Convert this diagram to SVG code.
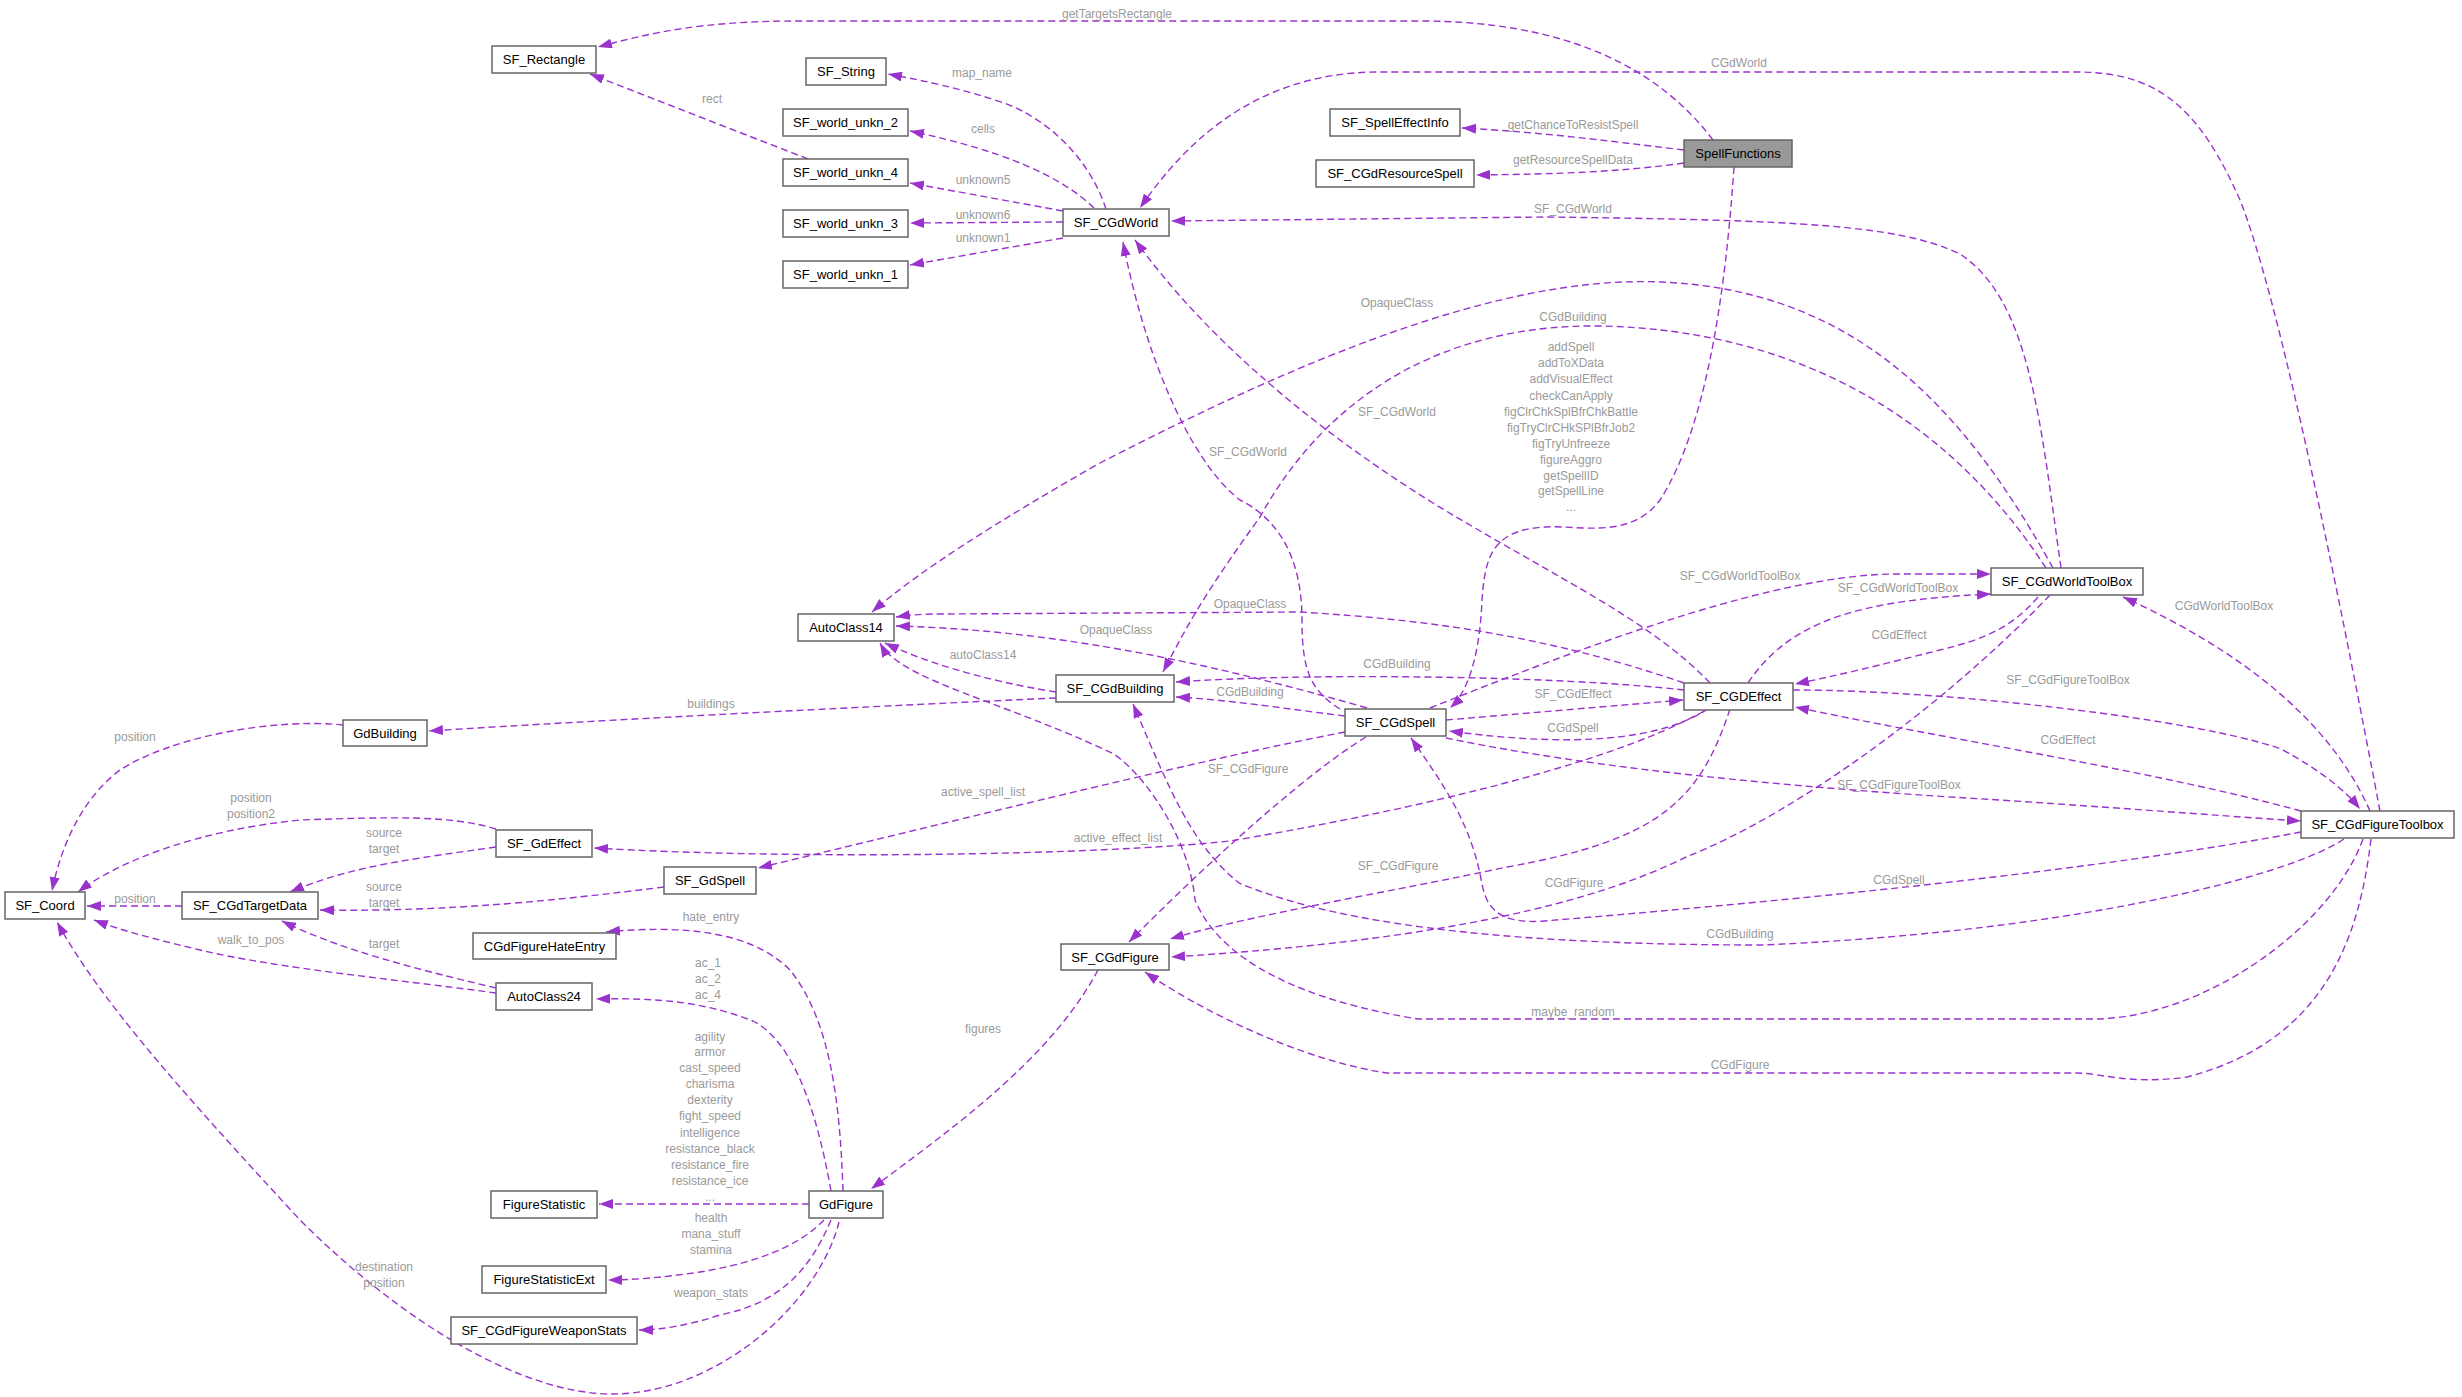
<svg xmlns="http://www.w3.org/2000/svg" width="2462" height="1397" viewBox="0 0 2462 1397">
<style>
.n rect{fill:#fff;stroke:#666;stroke-width:1.5}
.n text{font-family:"Liberation Sans",Arial,sans-serif;font-size:13px;fill:#000;text-anchor:middle;dominant-baseline:central}
.e path{fill:none;stroke:#9a32cd;stroke-width:1.4;stroke-dasharray:7,4;marker-end:url(#a)}
.l text{font-family:"Liberation Sans",Arial,sans-serif;font-size:12px;fill:#9a9a9a;text-anchor:middle;dominant-baseline:central}
</style>
<defs><marker id="a" markerUnits="userSpaceOnUse" markerWidth="14" markerHeight="10" refX="14" refY="5" orient="auto"><path d="M0,0L14,5L0,10z" fill="#9a32cd"/></marker></defs>
<rect width="2462" height="1397" fill="#fff"/>
<g class="e">
<path d="M1713,140 C1660,70 1570,21 1420,21 L800,21 C700,21 650,33 598,47"/>
<path d="M1684,150 C1600,140 1540,132 1462,128"/>
<path d="M1684,163 C1620,172 1560,174 1476,175"/>
<path d="M1734,167 C1725,300 1705,430 1660,500 C1630,540 1580,525 1545,527 C1490,530 1485,560 1482,600 C1480,650 1470,690 1450,708"/>
<path d="M1106,209 C1090,160 1050,120 1004,103 C960,88 920,80 888,74"/>
<path d="M1094,208 C1060,175 1000,150 910,131"/>
<path d="M1063,211 L910,183"/>
<path d="M1063,222 L910,223"/>
<path d="M1063,238 L910,265"/>
<path d="M808,159 L590,74"/>
<path d="M2380,811 C2340,600 2280,300 2240,200 C2200,110 2160,72 2077,72 L1379,72 C1250,72 1180,150 1140,208"/>
<path d="M2061,568 C2040,420 2030,300 1960,254 C1900,225 1800,220 1544,217 L1171,221"/>
<path d="M2053,568 C1960,400 1850,290 1661,282 C1500,275 1300,360 1100,463 C1000,520 920,570 872,612"/>
<path d="M2046,568 C1950,420 1800,330 1600,326 C1450,324 1330,390 1260,517 C1200,600 1185,630 1163,672"/>
<path d="M1710,683 C1650,620 1560,580 1433,503 C1300,420 1200,330 1135,240"/>
<path d="M1340,709 C1310,690 1302,670 1302,620 C1302,560 1280,520 1240,500 C1200,470 1150,380 1123,242"/>
<path d="M1748,683 C1790,620 1860,600 1991,594"/>
<path d="M1430,708 C1600,640 1780,574 1897,574 L1991,574"/>
<path d="M2038,597 C2010,630 1980,640 1940,650 C1880,665 1840,675 1795,684"/>
<path d="M2370,811 C2330,720 2240,650 2123,597"/>
<path d="M1793,690 C1950,690 2200,720 2281,749 C2320,770 2345,790 2360,809"/>
<path d="M2301,811 C2150,770 1950,740 1795,707"/>
<path d="M1446,738 C1600,770 1810,789 2000,800 C2150,810 2250,818 2301,821"/>
<path d="M1708,709 C1660,740 1575,748 1449,731"/>
<path d="M1446,720 L1683,700"/>
<path d="M2301,832 C2100,870 1800,900 1544,921 C1490,925 1485,900 1481,879 C1470,820 1440,780 1411,738"/>
<path d="M2344,839 C2300,870 2100,930 1763,945 C1544,945 1350,930 1239,883 C1190,843 1170,790 1133,704"/>
<path d="M2363,839 C2330,930 2200,1019 2093,1019 L1418,1019 C1300,1000 1220,960 1195,900 C1190,843 1150,780 1114,754 C1000,700 900,680 880,643"/>
<path d="M2371,839 C2360,930 2330,1040 2187,1077 C2130,1085 2100,1073 2077,1073 L1387,1073 C1300,1060 1200,1010 1145,972"/>
<path d="M1366,737 C1300,777 1190,880 1129,942"/>
<path d="M1730,709 C1700,800 1660,840 1507,867 C1400,890 1250,915 1170,939"/>
<path d="M2050,595 C1950,700 1800,812 1686,857 C1600,900 1450,940 1171,957"/>
<path d="M1345,732 C1200,760 1000,810 758,868"/>
<path d="M1704,711 C1600,770 1373,817 1230,841 C1100,855 800,860 594,848"/>
<path d="M1367,708 C1200,660 1050,630 896,626"/>
<path d="M1684,683 C1550,637 1433,620 1300,612 L941,614 C920,614 910,615 896,617"/>
<path d="M1684,690 C1550,675 1300,673 1176,682"/>
<path d="M1345,716 C1280,708 1230,700 1176,697"/>
<path d="M1056,692 C980,680 920,660 885,643"/>
<path d="M1056,698 C900,705 600,720 429,731"/>
<path d="M1098,970 C1050,1060 950,1130 871,1189"/>
<path d="M343,725 C275,718 173,736 120,770 C80,800 60,850 52,891"/>
<path d="M496,829 C450,815 392,817 300,820 C200,830 120,860 78,892"/>
<path d="M496,847 C420,858 353,865 290,892"/>
<path d="M664,887 C560,900 450,912 320,910"/>
<path d="M182,906 L87,906"/>
<path d="M496,993 C400,980 275,968 200,950 C150,938 120,930 94,920"/>
<path d="M496,988 C420,970 340,950 282,921"/>
<path d="M839,1222 C820,1300 720,1394 612,1394 C520,1394 400,1320 300,1220 C180,1090 100,1000 57,922"/>
<path d="M843,1191 C840,1100 830,1020 790,970 C750,930 680,925 606,932"/>
<path d="M831,1191 C815,1100 790,1040 753,1021 C700,1000 650,998 596,999"/>
<path d="M809,1204 L599,1204"/>
<path d="M824,1220 C800,1245 760,1262 700,1272 C660,1278 630,1280 608,1280"/>
<path d="M831,1220 C810,1270 780,1303 720,1315 C690,1325 660,1330 639,1330"/>
</g>
<g class="l">
<text x="1117" y="14">getTargetsRectangle</text>
<text x="1573" y="125">getChanceToResistSpell</text>
<text x="1573" y="160">getResourceSpellData</text>
<text x="1571" y="347">addSpell</text><text x="1571" y="363">addToXData</text><text x="1571" y="379">addVisualEffect</text><text x="1571" y="396">checkCanApply</text><text x="1571" y="412">figClrChkSplBfrChkBattle</text><text x="1571" y="428">figTryClrCHkSPlBfrJob2</text><text x="1571" y="444">figTryUnfreeze</text><text x="1571" y="460">figureAggro</text><text x="1571" y="476">getSpellID</text><text x="1571" y="491">getSpellLine</text><text x="1571" y="507">...</text>
<text x="982" y="73">map_name</text>
<text x="983" y="129">cells</text>
<text x="983" y="180">unknown5</text>
<text x="983" y="215">unknown6</text>
<text x="983" y="238">unknown1</text>
<text x="712" y="99">rect</text>
<text x="1739" y="63">CGdWorld</text>
<text x="1573" y="209">SF_CGdWorld</text>
<text x="1397" y="303">OpaqueClass</text>
<text x="1573" y="317">CGdBuilding</text>
<text x="1397" y="412">SF_CGdWorld</text>
<text x="1248" y="452">SF_CGdWorld</text>
<text x="1898" y="588">SF_CGdWorldToolBox</text>
<text x="1740" y="576">SF_CGdWorldToolBox</text>
<text x="1899" y="635">CGdEffect</text>
<text x="2224" y="606">CGdWorldToolBox</text>
<text x="2068" y="680">SF_CGdFigureToolBox</text>
<text x="2068" y="740">CGdEffect</text>
<text x="1899" y="785">SF_CGdFigureToolBox</text>
<text x="1573" y="728">CGdSpell</text>
<text x="1573" y="694">SF_CGdEffect</text>
<text x="1899" y="880">CGdSpell</text>
<text x="1740" y="934">CGdBuilding</text>
<text x="1573" y="1012">maybe_random</text>
<text x="1740" y="1065">CGdFigure</text>
<text x="1248" y="769">SF_CGdFigure</text>
<text x="1398" y="866">SF_CGdFigure</text>
<text x="1574" y="883">CGdFigure</text>
<text x="983" y="792">active_spell_list</text>
<text x="1118" y="838">active_effect_list</text>
<text x="1116" y="630">OpaqueClass</text>
<text x="1250" y="604">OpaqueClass</text>
<text x="1397" y="664">CGdBuilding</text>
<text x="1250" y="692">CGdBuilding</text>
<text x="983" y="655">autoClass14</text>
<text x="711" y="704">buildings</text>
<text x="983" y="1029">figures</text>
<text x="135" y="737">position</text>
<text x="251" y="798">position</text><text x="251" y="814">position2</text>
<text x="384" y="833">source</text><text x="384" y="849">target</text>
<text x="384" y="887">source</text><text x="384" y="903">target</text>
<text x="135" y="899">position</text>
<text x="251" y="940">walk_to_pos</text>
<text x="384" y="944">target</text>
<text x="384" y="1267">destination</text><text x="384" y="1283">position</text>
<text x="711" y="917">hate_entry</text>
<text x="708" y="963">ac_1</text><text x="708" y="979">ac_2</text><text x="708" y="995">ac_4</text>
<text x="710" y="1037">agility</text><text x="710" y="1052">armor</text><text x="710" y="1068">cast_speed</text><text x="710" y="1084">charisma</text><text x="710" y="1100">dexterity</text><text x="710" y="1116">fight_speed</text><text x="710" y="1133">intelligence</text><text x="710" y="1149">resistance_black</text><text x="710" y="1165">resistance_fire</text><text x="710" y="1181">resistance_ice</text><text x="710" y="1197">...</text>
<text x="711" y="1218">health</text><text x="711" y="1234">mana_stuff</text><text x="711" y="1250">stamina</text>
<text x="711" y="1293">weapon_stats</text>
</g>
<g id="SF_Rectangle" class="n"><rect x="492" y="46" width="104" height="27"/><text x="544" y="59.5">SF_Rectangle</text></g>
<g id="SF_String" class="n"><rect x="806" y="58" width="80" height="27"/><text x="846" y="71.5">SF_String</text></g>
<g id="SF_world_unkn_2" class="n"><rect x="783" y="109" width="125" height="27"/><text x="845.5" y="122.5">SF_world_unkn_2</text></g>
<g id="SF_world_unkn_4" class="n"><rect x="783" y="159" width="125" height="27"/><text x="845.5" y="172.5">SF_world_unkn_4</text></g>
<g id="SF_world_unkn_3" class="n"><rect x="783" y="210" width="125" height="27"/><text x="845.5" y="223.5">SF_world_unkn_3</text></g>
<g id="SF_world_unkn_1" class="n"><rect x="783" y="261" width="125" height="27"/><text x="845.5" y="274.5">SF_world_unkn_1</text></g>
<g id="SF_CGdWorld" class="n"><rect x="1063" y="209" width="106" height="27"/><text x="1116" y="222.5">SF_CGdWorld</text></g>
<g id="SF_SpellEffectInfo" class="n"><rect x="1330" y="109" width="130" height="27"/><text x="1395" y="122.5">SF_SpellEffectInfo</text></g>
<g id="SF_CGdResourceSpell" class="n"><rect x="1316" y="160" width="158" height="27"/><text x="1395" y="173.5">SF_CGdResourceSpell</text></g>
<g id="SpellFunctions" class="n"><rect x="1684" y="140" width="108" height="27" style="fill:#999"/><text x="1738" y="153.5">SpellFunctions</text></g>
<g id="AutoClass14" class="n"><rect x="798" y="614" width="96" height="27"/><text x="846" y="627.5">AutoClass14</text></g>
<g id="SF_CGdBuilding" class="n"><rect x="1056" y="675" width="118" height="27"/><text x="1115" y="688.5">SF_CGdBuilding</text></g>
<g id="SF_CGDEffect" class="n"><rect x="1684" y="683" width="109" height="27"/><text x="1738.5" y="696.5">SF_CGDEffect</text></g>
<g id="SF_CGdSpell" class="n"><rect x="1345" y="709" width="101" height="27"/><text x="1395.5" y="722.5">SF_CGdSpell</text></g>
<g id="SF_CGdWorldToolBox" class="n"><rect x="1991" y="568" width="152" height="27"/><text x="2067" y="581.5">SF_CGdWorldToolBox</text></g>
<g id="SF_CGdFigureToolbox" class="n"><rect x="2301" y="811" width="153" height="27"/><text x="2377.5" y="824.5">SF_CGdFigureToolbox</text></g>
<g id="GdBuilding" class="n"><rect x="343" y="720" width="84" height="26"/><text x="385" y="733">GdBuilding</text></g>
<g id="SF_GdEffect" class="n"><rect x="496" y="830" width="96" height="27"/><text x="544" y="843.5">SF_GdEffect</text></g>
<g id="SF_GdSpell" class="n"><rect x="664" y="867" width="92" height="27"/><text x="710" y="880.5">SF_GdSpell</text></g>
<g id="SF_Coord" class="n"><rect x="5" y="892" width="80" height="27"/><text x="45" y="905.5">SF_Coord</text></g>
<g id="SF_CGdTargetData" class="n"><rect x="182" y="892" width="136" height="27"/><text x="250" y="905.5">SF_CGdTargetData</text></g>
<g id="CGdFigureHateEntry" class="n"><rect x="473" y="933" width="143" height="26"/><text x="544.5" y="946">CGdFigureHateEntry</text></g>
<g id="AutoClass24" class="n"><rect x="496" y="983" width="96" height="27"/><text x="544" y="996.5">AutoClass24</text></g>
<g id="SF_CGdFigure" class="n"><rect x="1061" y="944" width="108" height="26"/><text x="1115" y="957">SF_CGdFigure</text></g>
<g id="FigureStatistic" class="n"><rect x="491" y="1191" width="106" height="27"/><text x="544" y="1204.5">FigureStatistic</text></g>
<g id="GdFigure" class="n"><rect x="809" y="1191" width="74" height="27"/><text x="846" y="1204.5">GdFigure</text></g>
<g id="FigureStatisticExt" class="n"><rect x="482" y="1266" width="124" height="27"/><text x="544" y="1279.5">FigureStatisticExt</text></g>
<g id="SF_CGdFigureWeaponStats" class="n"><rect x="451" y="1317" width="186" height="27"/><text x="544" y="1330.5">SF_CGdFigureWeaponStats</text></g>
</svg>
